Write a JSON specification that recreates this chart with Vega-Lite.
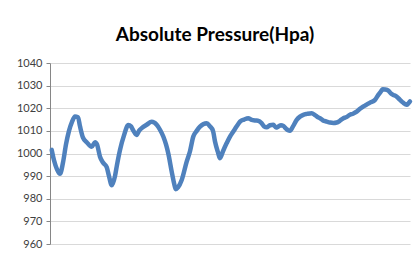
{
  "$schema": "https://vega.github.io/schema/vega-lite/v6.json",
  "autosize": {"type": "none"},
  "padding": {"left": 50, "top": 63, "right": 8, "bottom": 9},
  "width": 360,
  "height": 181,
  "background": "white",
  "title": {
    "text": "Absolute Pressure(Hpa)",
    "font": "Lato",
    "fontSize": 19,
    "fontWeight": "bold",
    "color": "#000000",
    "anchor": "middle",
    "offset": 12,
    "dx": -15
  },
  "config": {"view": {"stroke": null}},
  "data": {
    "values": [
      {"t": 1.7, "p": 1001.6}, {"t": 4, "p": 997}, {"t": 7, "p": 993}, {"t": 10, "p": 991},
      {"t": 13, "p": 996}, {"t": 16, "p": 1004}, {"t": 19, "p": 1010}, {"t": 22, "p": 1014},
      {"t": 25, "p": 1016.3}, {"t": 28, "p": 1016}, {"t": 30, "p": 1012}, {"t": 33, "p": 1007},
      {"t": 36.7, "p": 1005}, {"t": 41.7, "p": 1003}, {"t": 45, "p": 1005}, {"t": 47, "p": 1004},
      {"t": 50, "p": 998.6}, {"t": 53, "p": 996}, {"t": 56.7, "p": 994}, {"t": 59, "p": 990},
      {"t": 61.7, "p": 986}, {"t": 63, "p": 987}, {"t": 65, "p": 990}, {"t": 67, "p": 995},
      {"t": 70, "p": 1001.6}, {"t": 74, "p": 1008}, {"t": 78.3, "p": 1012.6}, {"t": 81, "p": 1012},
      {"t": 83, "p": 1010.4}, {"t": 86.7, "p": 1008.2}, {"t": 89, "p": 1010}, {"t": 91.7, "p": 1011.2},
      {"t": 96.7, "p": 1012.7}, {"t": 101.7, "p": 1014}, {"t": 106.7, "p": 1012.7}, {"t": 110, "p": 1010.5},
      {"t": 113.3, "p": 1007.5}, {"t": 116, "p": 1004}, {"t": 118.3, "p": 1000}, {"t": 121.7, "p": 992},
      {"t": 124, "p": 987}, {"t": 125.7, "p": 984.2}, {"t": 128, "p": 985}, {"t": 131.7, "p": 988.3},
      {"t": 136.7, "p": 996.4}, {"t": 140, "p": 1001}, {"t": 143.3, "p": 1007.5}, {"t": 146.7, "p": 1010},
      {"t": 150, "p": 1011.9}, {"t": 156.7, "p": 1013.4}, {"t": 160, "p": 1012}, {"t": 163, "p": 1010},
      {"t": 165, "p": 1005.3}, {"t": 168, "p": 1000.5}, {"t": 170, "p": 997.9}, {"t": 173, "p": 1001},
      {"t": 176.7, "p": 1004.6}, {"t": 180, "p": 1007.5}, {"t": 183.3, "p": 1009.7}, {"t": 186.7, "p": 1012},
      {"t": 190, "p": 1014.1}, {"t": 194, "p": 1015}, {"t": 198.3, "p": 1015.6}, {"t": 201, "p": 1015},
      {"t": 205, "p": 1014.6}, {"t": 208, "p": 1014.5}, {"t": 211.7, "p": 1013.4}, {"t": 214, "p": 1012},
      {"t": 216.7, "p": 1011.6}, {"t": 220, "p": 1012.5}, {"t": 223.3, "p": 1012.7}, {"t": 226, "p": 1011.5},
      {"t": 228.3, "p": 1011.9}, {"t": 231, "p": 1012.5}, {"t": 233.3, "p": 1012.2}, {"t": 236, "p": 1011},
      {"t": 238, "p": 1010.3}, {"t": 240, "p": 1010.1}, {"t": 243, "p": 1012}, {"t": 246.7, "p": 1014.9},
      {"t": 250, "p": 1016.3}, {"t": 253.3, "p": 1017.1}, {"t": 257, "p": 1017.5}, {"t": 261.7, "p": 1017.8},
      {"t": 265, "p": 1017}, {"t": 268, "p": 1016}, {"t": 270, "p": 1015.6}, {"t": 273, "p": 1014.6},
      {"t": 276.7, "p": 1014.1}, {"t": 280, "p": 1013.7}, {"t": 283.3, "p": 1013.5}, {"t": 286.7, "p": 1013.7},
      {"t": 290, "p": 1014.5}, {"t": 293.3, "p": 1015.6}, {"t": 296, "p": 1016}, {"t": 300, "p": 1017.1},
      {"t": 303, "p": 1017.6}, {"t": 306.7, "p": 1018.5}, {"t": 310, "p": 1019.8}, {"t": 313.3, "p": 1020.8},
      {"t": 316, "p": 1021.4}, {"t": 320, "p": 1022.5}, {"t": 325, "p": 1023.7}, {"t": 328.3, "p": 1025.9},
      {"t": 331, "p": 1027.5}, {"t": 332.7, "p": 1028.4}, {"t": 335, "p": 1028.3}, {"t": 338.3, "p": 1027.8},
      {"t": 341, "p": 1026.5}, {"t": 343.3, "p": 1025.9}, {"t": 346, "p": 1025.4}, {"t": 350, "p": 1023.7},
      {"t": 353, "p": 1022.5}, {"t": 356.7, "p": 1021.5}, {"t": 358.5, "p": 1022.2}, {"t": 360, "p": 1023}
    ]
  },
  "mark": {"type": "line", "color": "#4f81bd", "strokeWidth": 4.5, "interpolate": "monotone", "strokeCap": "round", "strokeJoin": "round"},
  "encoding": {
    "x": {
      "field": "t",
      "type": "quantitative",
      "scale": {"domain": [0, 360], "nice": false, "zero": false},
      "axis": null
    },
    "y": {
      "field": "p",
      "type": "quantitative",
      "scale": {"domain": [960, 1040], "nice": false, "zero": false},
      "axis": {
        "title": null,
        "format": "d",
        "values": [960, 970, 980, 990, 1000, 1010, 1020, 1030, 1040],
        "labelFont": "Lato",
        "labelFontSize": 11,
        "labelColor": "#404040",
        "labelPadding": 4,
        "tickSize": 4,
        "tickColor": "#868686",
        "domainColor": "#868686",
        "gridColor": "#d9d9d9",
        "gridWidth": 1
      }
    }
  }
}
